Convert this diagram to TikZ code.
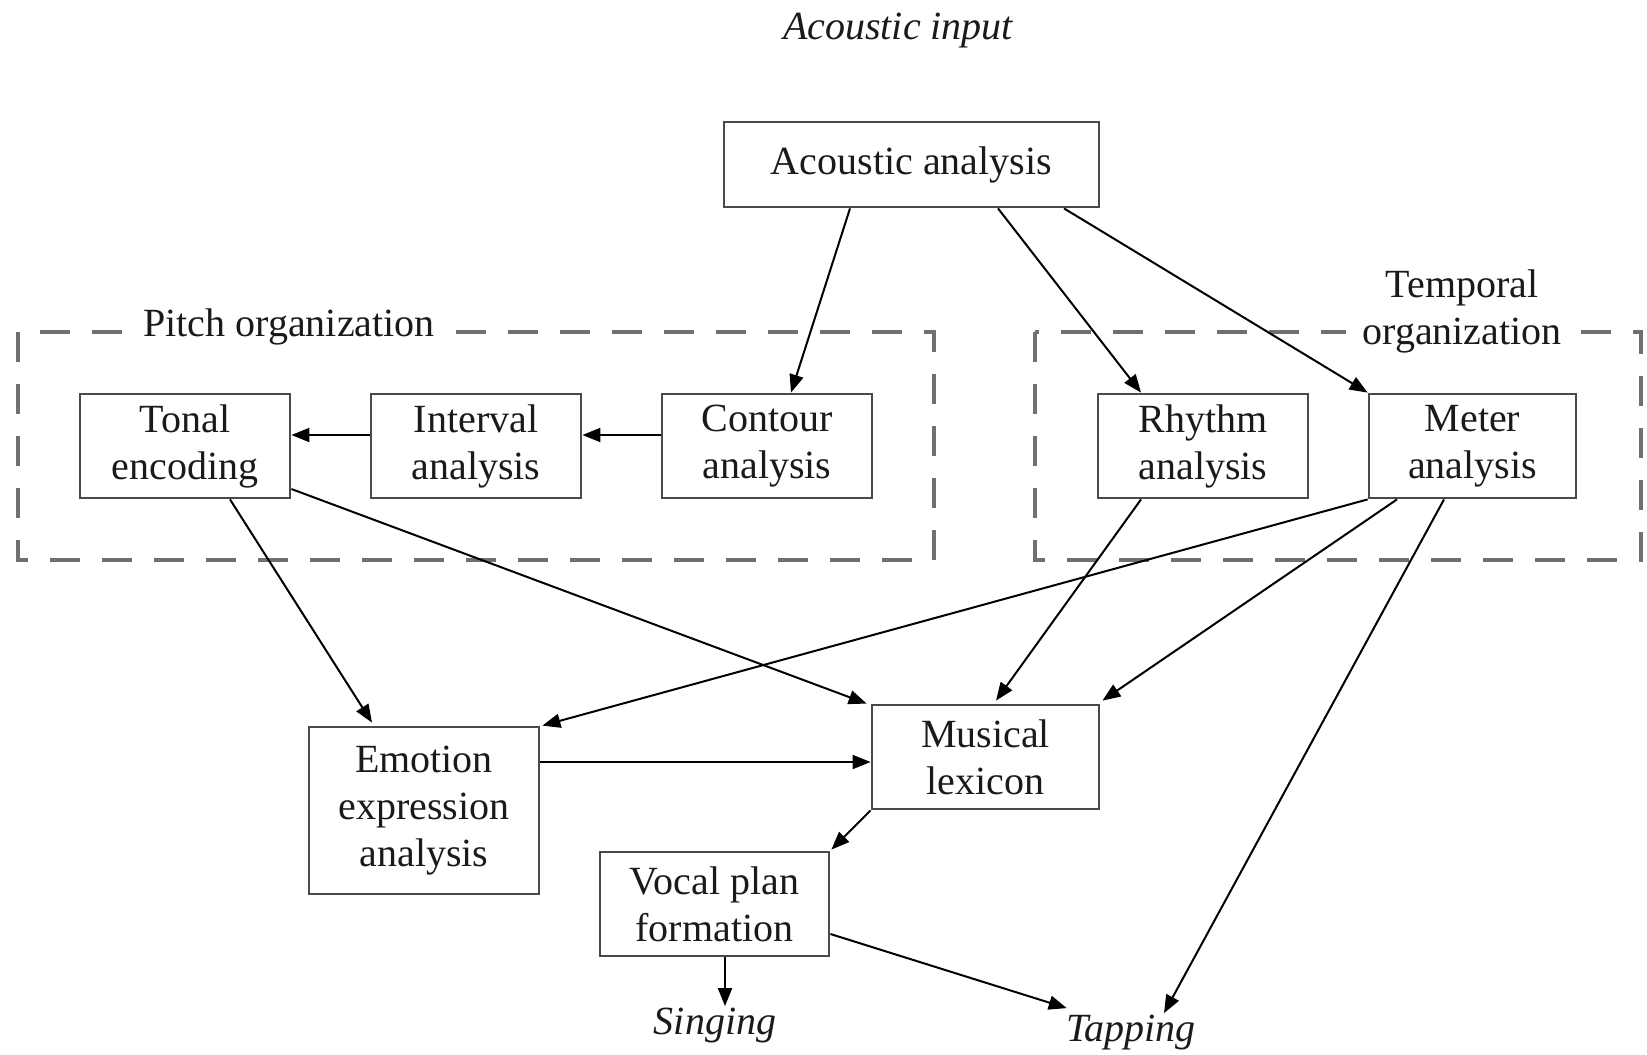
\documentclass[tikz,border=0pt]{standalone}
\usepackage{fontspec}
\setmainfont{Liberation Serif}
\usetikzlibrary{arrows.meta,calc}
\definecolor{boxgray}{HTML}{4A4A4A}
\definecolor{dashgray}{HTML}{707070}
\definecolor{txt}{HTML}{1A1A1A}
\begin{document}
\begin{tikzpicture}[x=0.5pt,y=-0.5pt,
  every node/.style={font=\fontsize{20}{23.5}\selectfont, text=txt},
  box/.style={draw=boxgray, line width=1.4pt, align=center, inner sep=0pt},
  arr/.style={line width=1pt, -{Triangle[length=9pt,width=7pt]}},
  grp/.style={draw=dashgray, line width=1.7pt, dash pattern=on 15pt off 11pt},
  lbl/.style={fill=white, inner xsep=8pt, inner ysep=1pt, align=center},
  outtext/.style={font=\fontsize{20}{23.5}\selectfont\itshape, inner sep=1pt}]
\useasboundingbox (0,0) rectangle (1647,1054);
% groups
\draw[grp] (18,332) rectangle (934,560);
\draw[grp] (1035,332) rectangle (1641,560);
\node[lbl] (pitchlbl) at (289,327) {Pitch organization};
\node[lbl] (templbl) at (1462,311) {Temporal\\organization};
% nodes
\node[outtext] (input) at (898,31) {Acoustic input};
\node[box, minimum width=187.5pt, minimum height=42.5pt] (acoustic) at (911.5,164.5) {Acoustic analysis};
\node[box, minimum width=105pt, minimum height=52pt] (tonal) at (185,446) {Tonal\\encoding};
\node[box, minimum width=105pt, minimum height=52pt] (interval) at (476,446) {Interval\\analysis};
\node[box, minimum width=105pt, minimum height=52pt] (contour) at (767,446) {Contour\\analysis};
\node[box, minimum width=105pt, minimum height=52pt] (rhythm) at (1203,446) {Rhythm\\analysis};
\node[box, minimum width=103.5pt, minimum height=52pt] (meter) at (1472.5,446) {Meter\\analysis};
\node[box, minimum width=113.5pt, minimum height=52pt] (lexicon) at (985.5,757) {Musical\\lexicon};
\node[box, minimum width=115pt, minimum height=83.5pt] (emotion) at (424,810.5) {Emotion\\expression\\analysis};
\node[box, minimum width=114.5pt, minimum height=52pt] (vocal) at (714.5,904) {Vocal plan\\formation};
\node[outtext] (singing) at (715,1026) {Singing};
\node[outtext] (tapping) at (1131,1033) {Tapping};
% connectors
\draw[arr] ($(acoustic.south)+(-61.5,0)$) -- ($(contour.north)+(24,0)$);
\draw[arr] ($(acoustic.south)+(86.5,0)$) -- ($(rhythm.north)+(-62,0)$);
\draw[arr] ($(acoustic.south)+(152.5,0)$) -- (meter.north west);
\draw[arr] ($(contour.west)+(0,-11)$) -- ($(interval.east)+(0,-11)$);
\draw[arr] ($(interval.west)+(0,-11)$) -- ($(tonal.east)+(0,-11)$);
\draw[arr] ($(tonal.south)+(45,0)$) -- ($(emotion.north)+(-52,-3)$);
\draw[arr] ($(tonal.east)+(0,43)$) -- ($(lexicon.north west)+(-4,0)$);
\draw[arr] ($(rhythm.south)+(-62,0)$) -- ($(lexicon.north)+(10.5,-3)$);
\draw[arr] (meter.south west) -- ($(emotion.north east)+(2,0)$);
\draw[arr] ($(meter.south)+(-75.5,0)$) -- ($(lexicon.north east)+(2,-3)$);
\draw[arr] ($(meter.south)+(-28.5,0)$) -- ($(tapping.north)+(33,0)$);
\draw[arr] ($(emotion.east)+(0,-48.5)$) -- ($(lexicon.west)+(0,5)$);
\draw[arr] (lexicon.south west) -- ($(vocal.north east)+(1,-1)$);
\draw[arr] ($(vocal.south)+(10.5,0)$) -- ($(singing.north)+(10,0)$);
\draw[arr] ($(vocal.east)+(0,30)$) -- ($(tapping.north west)+(3,-5)$);
\end{tikzpicture}
\end{document}
